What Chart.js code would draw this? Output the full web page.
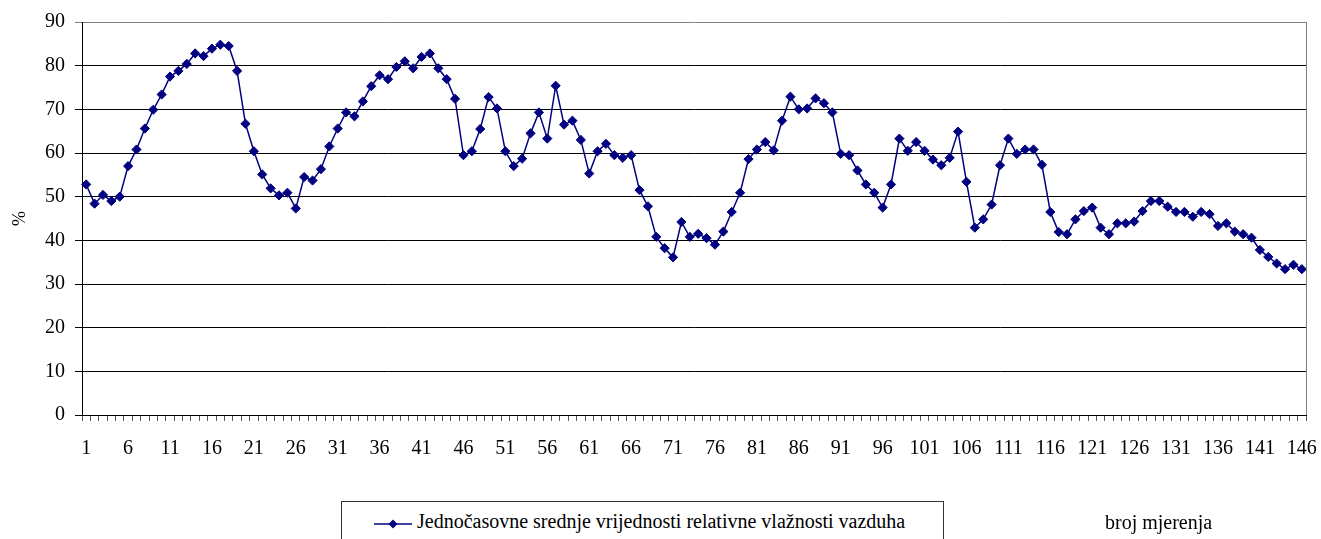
<!DOCTYPE html>
<html>
<head>
<meta charset="utf-8">
<script src="https://cdn.jsdelivr.net/npm/chart.js@4.4.1/dist/chart.umd.min.js"></script>
<style>
  html, body { margin: 0; padding: 0; background: #fff; }
  #wrap { position: relative; width: 1321px; height: 539px; overflow: hidden; }
  #humChart { position: absolute; left: 0; top: 0; }
  #legendBox {
    position: absolute; left: 341px; top: 501px; width: 603px; height: 60px;
    border: 1px solid #333; box-sizing: border-box; background: #fff;
  }
  #legendBox svg { position: absolute; left: 32px; top: 15px; }
  .txt {
    position: absolute; white-space: nowrap; color: #000;
    font-family: "Liberation Serif", "Times New Roman", "DejaVu Serif", serif; font-size: 20px;
  }
  #legendText { left: 75px; top: 8px; }
  #xTitle { left: 1105px; top: 511px; }
</style>
</head>
<body>
<div id="wrap">
  <canvas id="humChart" width="1321" height="539"></canvas>
  <div id="legendBox">
    <svg width="40" height="14" viewBox="0 0 40 14">
      <line x1="0" y1="7" x2="38" y2="7" stroke="#000080" stroke-width="1.5"/>
      <polygon points="19,2.5 23.5,7 19,11.5 14.5,7" fill="#000080"/>
    </svg>
    <span id="legendText" class="txt">Jednočasovne srednje vrijednosti relativne vlažnosti vazduha</span>
  </div>
  <div id="xTitle" class="txt">broj mjerenja</div>
</div>

<script>
// measurement numbers 1..146
const measurements = Array.from({ length: 146 }, (_, i) => String(i + 1));

// hourly mean relative humidity, %
const humidity = [
    52.8, 48.4, 50.4, 49.0, 50.0, 57.0, 60.8, 65.6, 69.9, 73.4,
    77.5, 78.8, 80.4, 82.8, 82.2, 83.9, 84.8, 84.5, 78.8, 66.7,
    60.4, 55.1, 51.9, 50.3, 50.9, 47.3, 54.5, 53.7, 56.3, 61.5,
    65.6, 69.3, 68.4, 71.8, 75.3, 77.8, 76.9, 79.7, 81.0, 79.4,
    82.0, 82.8, 79.4, 76.9, 72.4, 59.5, 60.4, 65.5, 72.8, 70.2,
    60.4, 57.0, 58.7, 64.5, 69.3, 63.3, 75.4, 66.5, 67.4, 63.0,
    55.3, 60.4, 62.1, 59.5, 58.9, 59.5, 51.5, 47.8, 40.8, 38.2,
    36.1, 44.2, 40.8, 41.5, 40.5, 39.0, 42.0, 46.5, 50.9, 58.6,
    60.8, 62.5, 60.6, 67.4, 72.9, 70.0, 70.2, 72.5, 71.4, 69.3,
    59.8, 59.5, 56.0, 52.8, 50.9, 47.5, 52.8, 63.3, 60.5, 62.5,
    60.5, 58.5, 57.2, 58.9, 64.9, 53.4, 42.9, 44.8, 48.2, 57.2,
    63.3, 59.8, 60.8, 60.8, 57.3, 46.5, 41.9, 41.4, 44.8, 46.7,
    47.5, 42.9, 41.4, 43.9, 43.9, 44.3, 46.7, 49.0, 49.0, 47.7,
    46.5, 46.5, 45.4, 46.5, 46.0, 43.3, 43.9, 42.0, 41.4, 40.6,
    37.8, 36.2, 34.7, 33.4, 34.4, 33.4
];

const yTicks = [0, 10, 20, 30, 40, 50, 60, 70, 80, 90];

// first serif face that actually resolves (DejaVu Serif runs wider, so it gets a smaller size)
function pickSerif() {
    const m = document.createElement('canvas').getContext('2d');
    const probe = 'broj mjerenja 146';
    m.font = '20px monospace';
    const mono = m.measureText(probe).width;
    const faces = [['Liberation Serif', 20], ['Times New Roman', 20], ['DejaVu Serif', 16.5]];
    for (const [face, size] of faces) {
        m.font = `20px "${face}", monospace`;
        if (Math.abs(m.measureText(probe).width - mono) > 0.5) return { family: `"${face}", serif`, size };
    }
    return { family: 'serif', size: 20 };
}

const serif = pickSerif();
document.querySelectorAll('.txt').forEach(el => {
    el.style.fontFamily = serif.family;
    el.style.fontSize = serif.size + 'px';
});

// gray frame on the right side of the plot area
const plotFrame = {
    id: 'plotFrame',
    afterDraw(chart) {
        const { ctx: c, chartArea: a } = chart;
        c.save();
        c.strokeStyle = '#808080';
        c.lineWidth = 1;
        c.beginPath();
        c.moveTo(Math.round(a.right) + 0.5, a.top);
        c.lineTo(Math.round(a.right) + 0.5, a.bottom);
        c.stroke();
        c.restore();
    }
};

const chart = new Chart(document.getElementById('humChart'), {
    type: 'line',
    data: {
        labels: measurements,
        datasets: [{
            label: 'Jednočasovne srednje vrijednosti relativne vlažnosti vazduha',
            data: humidity,
            borderColor: '#000080',
            backgroundColor: '#000080',
            borderWidth: 1.5,
            pointStyle: 'rectRot',
            pointRadius: 4.6,
            pointBorderWidth: 1,
            pointBackgroundColor: '#000080',
            pointBorderColor: '#000080',
            tension: 0,
            fill: false
        }]
    },
    plugins: [plotFrame],
    options: {
        responsive: false,
        animation: false,
        devicePixelRatio: 1,
        layout: { padding: { top: 20, right: 15, left: 0, bottom: 0 } },
        plugins: {
            legend: { display: false },
            tooltip: { enabled: false }
        },
        scales: {
            x: {
                type: 'category',
                offset: true,
                afterFit: (scale) => {
                    scale.height = 124;
                    scale.paddingLeft = 0;
                    scale.paddingRight = 0;
                },
                grid: {
                    offset: true,
                    drawOnChartArea: false,
                    drawTicks: true,
                    tickLength: 6,
                    color: '#555'
                },
                border: { display: true, color: '#000', width: 1 },
                ticks: {
                    autoSkip: false,
                    maxRotation: 0,
                    minRotation: 0,
                    padding: 16,
                    color: '#000',
                    font: { family: serif.family, size: serif.size },
                    callback: (val, i) => (i % 5 === 0 ? measurements[i] : '')
                }
            },
            y: {
                min: yTicks[0],
                max: yTicks[yTicks.length - 1],
                afterFit: (scale) => { scale.width = 82; },
                afterBuildTicks: (scale) => { scale.ticks = yTicks.map(v => ({ value: v })); },
                grid: {
                    color: (c) => (c.tick && c.tick.value === 90 ? '#808080' : '#000'),
                    lineWidth: 1,
                    drawTicks: true,
                    tickLength: 7
                },
                border: { display: true, color: '#000', width: 1 },
                ticks: {
                    padding: 10,
                    color: '#000',
                    font: { family: serif.family, size: serif.size }
                },
                title: {
                    display: true,
                    text: '%',
                    color: '#000',
                    padding: { top: 9, bottom: 0 },
                    font: { family: serif.family, size: Math.round(serif.size * 0.9) }
                }
            }
        }
    }
});

// repaint after fonts settle
setTimeout(() => chart.update('none'), 150);
</script>
</body>
</html>
